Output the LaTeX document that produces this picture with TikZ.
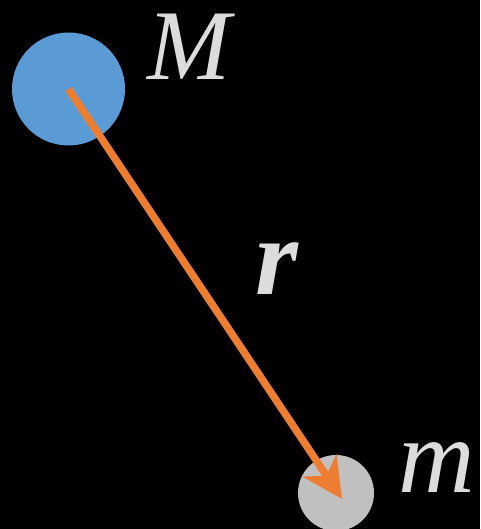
\documentclass[tikz,border=0pt]{standalone}
\usepackage{fontspec}
\setmainfont{Liberation Serif}
\usetikzlibrary{arrows.meta}
\definecolor{bodyblue}{HTML}{5B9BD5}
\definecolor{vecorange}{HTML}{ED7D31}
\definecolor{bodygray}{HTML}{C0C0C0}
\definecolor{labelgray}{HTML}{DCDCDC}
\tikzset{
  lbl/.style={text=labelgray, inner sep=0pt, anchor=base, font=\fontsize{106}{114}\selectfont\itshape},
  body/.style={circle, inner sep=0pt, draw=none},
  vec/.style={draw=vecorange, line width=7.5pt, -{Stealth[length=40pt, width=40pt, inset=12pt]}}
}
\begin{document}
\begin{tikzpicture}[x=1pt, y=-1pt]
\fill[black] (0,0) rectangle (480,529);
\useasboundingbox (0,0) rectangle (480,529);
\node[body, fill=bodyblue, minimum size=113pt] (M) at (68.5,89) {};
\node[body, fill=bodygray, minimum size=76pt] (m) at (336,493) {};
\coordinate (mc) at (342,499);
\draw[vec] (M.center) -- (mc);
\node[lbl, font=\fontsize{100}{108}\selectfont\itshape] (Mlab) at (189,80) {M};
\node[lbl] (mlab) at (437,492) {m};
\node[lbl, font=\fontsize{110}{118}\selectfont\bfseries\itshape] (rlab) at (277,294) {r};
\end{tikzpicture}
\end{document}
